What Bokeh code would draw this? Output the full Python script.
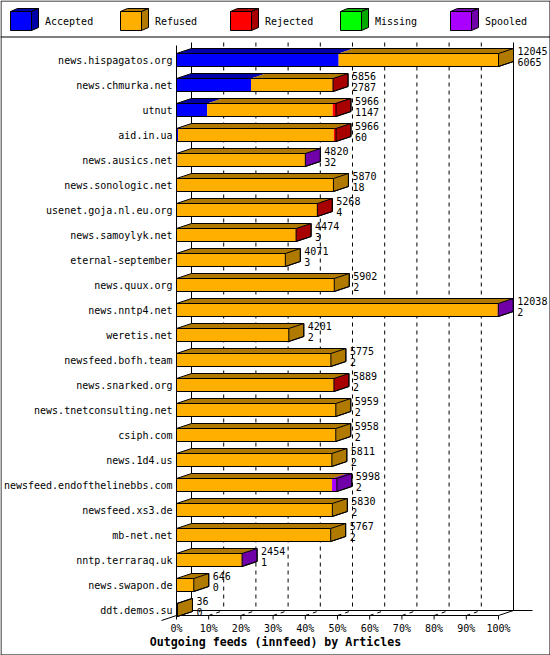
from bokeh.plotting import figure
from bokeh.models import Range1d
from bokeh.embed import file_html
from bokeh.resources import INLINE
from bokeh.core.properties import value

# ---------------- data ----------------
names = ["news.hispagatos.org", "news.chmurka.net", "utnut", "aid.in.ua",
         "news.ausics.net", "news.sonologic.net", "usenet.goja.nl.eu.org",
         "news.samoylyk.net", "eternal-september", "news.quux.org",
         "news.nntp4.net", "weretis.net", "newsfeed.bofh.team",
         "news.snarked.org", "news.tnetconsulting.net", "csiph.com",
         "news.1d4.us", "newsfeed.endofthelinebbs.com", "newsfeed.xs3.de",
         "mb-net.net", "nntp.terraraq.uk", "news.swapon.de", "ddt.demos.su"]
offered = [12045, 5856, 5966, 5966, 4820, 5870, 5268, 4474, 4071, 5902,
           12038, 4201, 5775, 5889, 5959, 5958, 5811, 5998, 5830, 5767,
           2454, 646, 36]
accepted = [6065, 2787, 1147, 60, 32, 18, 4, 3, 3, 2,
            2, 2, 2, 2, 2, 2, 2, 2, 2, 2,
            1, 0, 0]
refused = [5980, 3057, 4694, 5826, 4774, 5852, 5255, 4461, 4068, 5900,
           12016, 4199, 5773, 5879, 5957, 5956, 5809, 5816, 5828, 5765,
           2447, 646, 36]
rejected = [0, 12, 125, 80, 0, 0, 9, 10, 0, 0,
            0, 0, 0, 8, 0, 0, 0, 0, 0, 0,
            0, 0, 0]
missing = [0] * 23
spooled = [0, 0, 0, 0, 14, 0, 0, 0, 0, 0,
           20, 0, 0, 0, 0, 0, 0, 180, 0, 0,
           6, 0, 0]

series_names = ["Accepted", "Refused", "Rejected", "Missing", "Spooled"]
series_values = [accepted, refused, rejected, missing, spooled]
front_colors = ["#0000FF", "#FFAF00", "#FF0000", "#00FF00", "#AA00FF"]
dark_colors = ["#0000A8", "#B07A00", "#A80000", "#00A800", "#7000A8"]
pct_ticks = [0, 10, 20, 30, 40, 50, 60, 70, 80, 90, 100]
tick_labels = ["0%", "10%", "20%", "30%", "40%", "50%", "60%", "70%", "80%", "90%", "100%"]
title_text = "Outgoing feeds (innfeed) by Articles"

# ---------------- layout (pixels of the canvas) ----------------
W, H = 550, 655
X0, X100 = 176, 498          # front plane 0% and 100%
ROW0, ROWH = 59.5, 25        # first row centre, row pitch
vmax = max(offered)
S = (X100 - X0) / vmax


def xd(px):
    return (px - X0) / S


def yd(px):
    return (px - ROW0) / ROWH


DX = 15 / S
DY = -5 / ROWH
HALF = 6.5 / ROWH
MONO = value("DejaVu Sans Mono")

p = figure(width=W, height=H,
           x_range=Range1d(xd(0), xd(W)), y_range=Range1d(yd(H), yd(0)),
           min_border=0, toolbar_location=None,
           x_axis_location=None, y_axis_location=None,
           output_backend="svg", outline_line_color=None,
           background_fill_color="white", border_fill_color="white")
p.xgrid.grid_line_color = None
p.ygrid.grid_line_color = None

# ---------------- walls and floor ----------------
front_floor = yd(615)
back_floor = front_floor + DY
back_top = yd(42)
front_top = yd(45)
gx = [t / 100 * vmax for t in pct_ticks]

dash_xs, dash_ys, solid_xs, solid_ys = [], [], [], []
for t, g in zip(pct_ticks, gx):
    if t in (0, 100):
        solid_xs.append([g + DX, g + DX]); solid_ys.append([back_top, back_floor])
    else:
        dash_xs.append([g + DX, g + DX]); dash_ys.append([back_top, back_floor])
        dash_xs.append([g, g + DX]); dash_ys.append([front_floor, back_floor])
    solid_xs.append([g, g]); solid_ys.append([front_floor, front_floor + 4 / ROWH])

solid_xs.append([DX, vmax + DX + 19 / S]); solid_ys.append([back_floor, back_floor])
solid_xs.append([0, vmax]); solid_ys.append([front_floor, front_floor])
solid_xs.append([-DX, DX]); solid_ys.append([front_floor - DY, back_floor])
solid_xs.append([vmax, vmax + DX]); solid_ys.append([front_floor, back_floor])

p.multi_line(dash_xs, dash_ys, line_color="black", line_width=1, line_dash="4 4")
p.multi_line(solid_xs, solid_ys, line_color="black", line_width=1)

# ---------------- bars ----------------
fl, fr, ft, fb, fc = [], [], [], [], []
tx, ty, tc = [], [], []
ox, oy = [], []
sx, sy, sc = [], [], []
for i in range(len(names)):
    top, bot = i - HALF, i + HALF
    cum = 0
    last = None
    for k, vals in enumerate(series_values):
        v = vals[i]
        if v <= 0:
            continue
        l, r = cum, cum + v
        fl.append(l); fr.append(r); ft.append(top); fb.append(bot); fc.append(front_colors[k])
        tx.append([l, r, r + DX, l + DX]); ty.append([top, top, top + DY, top + DY])
        tc.append(dark_colors[k])
        cum = r
        last = k
    R = cum
    ox.append([0, DX, R + DX, R + DX, R, 0, 0, R])
    oy.append([top, top + DY, top + DY, bot + DY, bot, bot, top, top])
    sx.append([R, R + DX, R + DX, R]); sy.append([top, top + DY, bot + DY, bot])
    sc.append(dark_colors[last])

p.quad(left=fl, right=fr, top=ft, bottom=fb, fill_color=fc, line_color=None)
p.patches(tx, ty, fill_color=tc, line_color=None)
p.patches(sx, sy, fill_color=sc, line_color="black", line_width=1)
p.multi_line(ox, oy, line_color="black", line_width=1)
p.multi_line([[0, 0]], [[front_top, front_floor]], line_color="black", line_width=1)

# ---------------- texts ----------------
rows = list(range(len(names)))
p.text(x=[xd(X0 - 4)] * len(names), y=rows, text=names, text_align="right",
       text_baseline="middle", text_font=MONO, text_font_size="10px", text_color="black")
p.text(x=[o + DX + 4 / S for o in offered], y=[i - 9 / ROWH for i in rows],
       text=[str(o) for o in offered], text_align="left", text_baseline="middle",
       text_font=MONO, text_font_size="10px", text_color="black")
p.text(x=[o + DX + 4 / S for o in offered], y=[i + 2 / ROWH for i in rows],
       text=[str(a) for a in accepted], text_align="left", text_baseline="middle",
       text_font=MONO, text_font_size="10px", text_color="black")
p.text(x=gx, y=[yd(628)] * len(gx), text=tick_labels, text_align="center",
       text_baseline="middle", text_font=MONO, text_font_size="10px", text_color="black")
p.text(x=[xd(W / 2)], y=[yd(641)], text=[title_text], text_align="center",
       text_baseline="middle", text_font=MONO, text_font_size="11.6px",
       text_font_style="bold", text_color="black")

# ---------------- legend ----------------
lf_l, lf_r, lf_t, lf_b = [], [], [], []
lt_x, lt_y, ls_x, ls_y = [], [], [], []
lx_text = []
for k in range(len(series_names)):
    cx = 10 + 110 * k
    lf_l.append(xd(cx)); lf_r.append(xd(cx + 21)); lf_t.append(yd(11)); lf_b.append(yd(30))
    lt_x.append([xd(cx), xd(cx + 21), xd(cx + 28), xd(cx + 7)])
    lt_y.append([yd(11), yd(11), yd(8), yd(8)])
    ls_x.append([xd(cx + 21), xd(cx + 28), xd(cx + 28), xd(cx + 21)])
    ls_y.append([yd(11), yd(8), yd(27), yd(30)])
    lx_text.append(xd(cx + 34.5))
p.patches(lt_x, lt_y, fill_color=dark_colors, line_color="black", line_width=1)
p.patches(ls_x, ls_y, fill_color=dark_colors, line_color="black", line_width=1)
p.quad(left=lf_l, right=lf_r, top=lf_t, bottom=lf_b, fill_color=front_colors,
       line_color="black", line_width=1)
p.text(x=lx_text, y=[yd(20.5)] * 5, text=series_names, text_align="left",
       text_baseline="middle", text_font=MONO, text_font_size="10px", text_color="black")

# separator and outer frame
p.multi_line([[xd(0), xd(W)], [xd(0.5), xd(W - 0.5), xd(W - 0.5), xd(0.5), xd(0.5)]],
             [[yd(36.5), yd(36.5)], [yd(0.5), yd(0.5), yd(H - 0.5), yd(H - 0.5), yd(0.5)]],
             line_color="black", line_width=1)

open("out.html", "w").write(file_html(p, INLINE))
